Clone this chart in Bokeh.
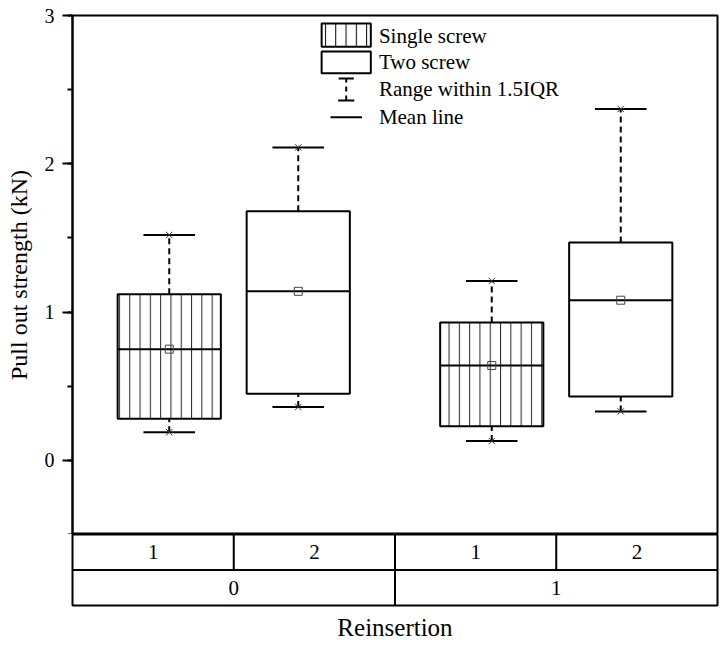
from bokeh.plotting import figure
from bokeh.layouts import column
from bokeh.models import Range1d, SingleIntervalTicker, FixedTicker, ColumnDataSource
from bokeh.core.properties import value
from bokeh.embed import file_html
from bokeh.resources import INLINE

# ---------------- data ----------------
reinsertion = ["0", "0", "1", "1"]
screws = ["1", "2", "1", "2"]
q1 = [0.28, 0.45, 0.23, 0.43]
q3 = [1.12, 1.68, 0.93, 1.47]
mean_line = [0.75, 1.14, 0.64, 1.08]
whisk_lo = [0.19, 0.36, 0.13, 0.33]
whisk_hi = [1.52, 2.11, 1.21, 2.37]
group_labels = ["0", "1"]
screw_labels = ["1", "2"]
legend_labels = ["Single screw", "Two screw", "Range within 1.5IQR", "Mean line"]

FONT = "Liberation Serif"
n_sub = len(screw_labels)
gi = [group_labels.index(g) for g in reinsertion]
si = [screw_labels.index(s) for s in screws]
OFF = 0.4
BOX_W = 0.64
CAP_W = 0.32
xpos = [g * n_sub + 1 + (OFF if s == 1 else -OFF) for g, s in zip(gi, si)]
hatch = ["|" if s == 0 else " " for s in si]

src = ColumnDataSource(dict(
    x=xpos, left=[x - BOX_W / 2 for x in xpos], right=[x + BOX_W / 2 for x in xpos],
    cl=[x - CAP_W / 2 for x in xpos], cr=[x + CAP_W / 2 for x in xpos],
    q1=q1, q3=q3, mean=mean_line, lo=whisk_lo, hi=whisk_hi, hatch=hatch,
))

# ---------------- main plot ----------------
p = figure(frame_width=645, frame_height=519, x_range=Range1d(0, 4), y_range=Range1d(-0.5, 3),
           output_backend="svg", toolbar_location=None, x_axis_location=None,
           min_border_left=72, min_border_right=5, min_border_top=15, min_border_bottom=0)
p.grid.visible = False
p.outline_line_color = "black"
p.outline_line_width = 2
p.outline_line_alpha = 1

ya = p.yaxis[0]
ya.ticker = SingleIntervalTicker(interval=1, num_minor_ticks=2)
ya.axis_line_width = 2
ya.axis_line_color = "black"
ya.major_tick_out = 10
ya.major_tick_in = 0
ya.minor_tick_out = 5
ya.minor_tick_in = 0
ya.major_tick_line_width = 2
ya.minor_tick_line_width = 2
ya.major_tick_line_color = "black"
ya.minor_tick_line_color = "black"
ya.major_label_standoff = 8
ya.major_label_text_font = FONT
ya.major_label_text_font_size = "20px"
ya.major_label_text_color = "black"
ya.axis_label = "Pull out strength (kN)"
ya.axis_label_text_font = FONT
ya.axis_label_text_font_size = "24px"
ya.axis_label_text_font_style = "normal"
ya.axis_label_text_color = "black"
ya.axis_label_standoff = 10

# whiskers
p.segment(x0="x", x1="x", y0="q3", y1="hi", source=src, line_color="black", line_width=2, line_dash="6 4")
p.segment(x0="x", x1="x", y0="lo", y1="q1", source=src, line_color="black", line_width=2, line_dash="6 4")
p.segment(x0="cl", x1="cr", y0="hi", y1="hi", source=src, line_color="black", line_width=2)
p.segment(x0="cl", x1="cr", y0="lo", y1="lo", source=src, line_color="black", line_width=2)
# boxes
p.quad(left="left", right="right", bottom="q1", top="q3", source=src, fill_color="white",
       line_color="black", line_width=2, hatch_pattern="hatch", hatch_color="black",
       hatch_scale=10.3, hatch_weight=1, hatch_alpha=0.85)
# mean line
p.segment(x0="left", x1="right", y0="mean", y1="mean", source=src, line_color="black", line_width=2)
# markers
p.scatter(x="x", y="mean", source=src, marker="square", size=8, fill_color=None,
          line_color="#444444", line_width=1)
p.scatter(x="x", y="hi", source=src, marker="x", size=9, line_color="#333333", line_width=1)
p.scatter(x="x", y="lo", source=src, marker="x", size=9, line_color="#333333", line_width=1)

# legend (drawn manually)
LX0, LX1 = 1.545, 1.85
p.quad(left=[LX0], right=[LX1], bottom=[2.79], top=[2.946], fill_color="white", line_color="black",
       line_width=2, hatch_pattern="|", hatch_color="black", hatch_scale=10.3, hatch_weight=1)
p.quad(left=[LX0], right=[LX1], bottom=[2.61], top=[2.758], fill_color="white", line_color="black",
       line_width=2)
wx = (LX0 + LX1) / 2
p.segment(x0=[wx], x1=[wx], y0=[2.427], y1=[2.575], line_color="black", line_width=2, line_dash="5 4")
p.segment(x0=[wx - 0.047, wx - 0.05], x1=[wx + 0.047, wx + 0.05], y0=[2.575, 2.427], y1=[2.575, 2.427],
          line_color="black", line_width=2)
p.segment(x0=[1.60], x1=[1.795], y0=[2.313], y1=[2.313], line_color="black", line_width=2)
p.text(x=[1.90] * 4, y=[2.865, 2.684, 2.502, 2.313], text=legend_labels,
       text_font=value(FONT), text_font_size="21px", text_baseline="middle", text_align="left",
       text_color="black")

# ---------------- table under the plot ----------------
p2 = figure(frame_width=645, frame_height=71, x_range=p.x_range, y_range=Range1d(0, 2),
            output_backend="svg", toolbar_location=None, y_axis_location=None,
            min_border_left=72, min_border_right=5, min_border_top=0, min_border_bottom=10)
p2.grid.visible = False
p2.outline_line_color = "black"
p2.outline_line_width = 2
p2.outline_line_alpha = 1

n_groups = len(group_labels)
total = n_groups * n_sub
hx0, hx1, hy0, hy1 = [0], [total], [1], [1]
vx, vy0, vy1 = [], [], []
for k in range(1, n_groups):
    vx.append(k * n_sub); vy0.append(0); vy1.append(2)
for g in range(n_groups):
    for j in range(1, n_sub):
        vx.append(g * n_sub + j); vy0.append(1); vy1.append(2)
p2.segment(x0=hx0, x1=hx1, y0=hy0, y1=hy1, line_color="black", line_width=2)
p2.segment(x0=vx, x1=vx, y0=vy0, y1=vy1, line_color="black", line_width=2)

tx, ty, tt = [], [], []
for g in range(n_groups):
    for j in range(n_sub):
        tx.append(g * n_sub + j + 0.5); ty.append(1.5); tt.append(screw_labels[j])
    tx.append(g * n_sub + n_sub / 2); ty.append(0.5); tt.append(group_labels[g])
p2.text(x=tx, y=ty, text=tt, text_font=value(FONT), text_font_size="21px",
        text_align="center", text_baseline="middle", text_color="black")

xa = p2.xaxis[0]
xa.ticker = FixedTicker(ticks=[])
xa.axis_line_color = None
xa.major_tick_line_color = None
xa.minor_tick_line_color = None
xa.major_tick_out = 0
xa.major_label_standoff = 0
xa.axis_label = "Reinsertion"
xa.axis_label_text_font = FONT
xa.axis_label_text_font_size = "25px"
xa.axis_label_text_font_style = "normal"
xa.axis_label_text_color = "black"
xa.axis_label_standoff = 8

layout = column(p, p2, spacing=0)
open("out.html", "w").write(file_html(layout, INLINE))
